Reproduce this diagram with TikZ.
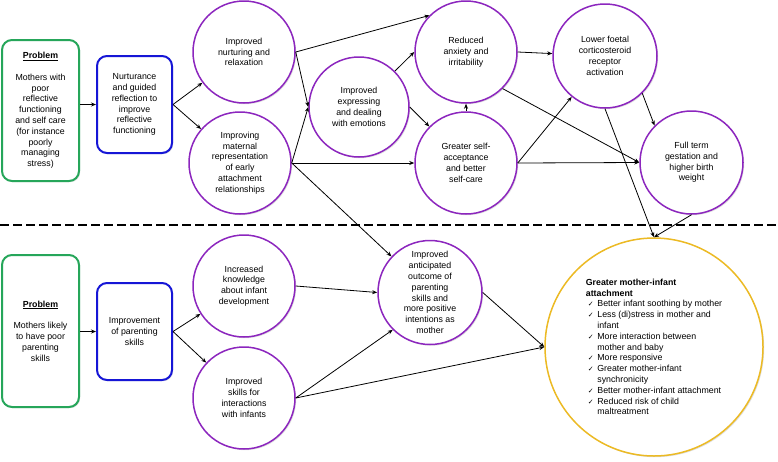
\documentclass[tikz,border=0pt]{standalone}
\usepackage{fontspec}
\setmainfont{Liberation Sans}
\newfontfamily\checkfont{DejaVu Sans}
\usetikzlibrary{shadows,arrows.meta}

\definecolor{probgreen}{RGB}{38,166,90}
\definecolor{stepblue}{RGB}{22,22,214}
\definecolor{effpurple}{RGB}{140,38,190}
\definecolor{goalyellow}{RGB}{236,186,36}

\newcommand{\chkline}[1]{\hspace*{2pt}\makebox[9.5pt][l]{\checkfont\fontsize{7}{8}\selectfont ✓}#1}
\newcommand{\contline}[1]{\hspace*{11.5pt}#1}

\begin{document}
\begin{tikzpicture}[x=1pt,y=-1pt,
  font=\fontsize{8.8}{10.8}\selectfont,
  softshadow/.style={drop shadow={shadow xshift=1.2pt,shadow yshift=-1.2pt,opacity=0.25}},
  problembox/.style={draw=probgreen,line width=2pt,rounded corners=10pt,fill=white,
    align=center,minimum width=77pt,inner sep=2pt,softshadow},
  stepbox/.style={draw=stepblue,line width=2pt,rounded corners=10pt,fill=white,
    align=center,minimum width=75pt,minimum height=97pt,inner sep=2pt,softshadow},
  effect/.style={circle,draw=effpurple,line width=1.5pt,fill=white,align=center,
    minimum size=102pt,inner sep=0pt,softshadow},
  goal/.style={circle,draw=goalyellow,line width=1.5pt,fill=white,align=left,
    minimum size=218pt,inner sep=0pt,softshadow},
  link/.style={-{Stealth[length=5pt,width=4pt]},line width=0.8pt}]

  \useasboundingbox (0,0) rectangle (778,461);

  % split between the two problems
  \draw[line width=1.6pt,dash pattern=on 9pt off 4pt] (0,225) -- (778,225);

  % upper part
  \node[problembox,minimum height=141pt] (prob1) at (40.5,110.5)
    {\underline{\textbf{Problem}}\\[10.8pt]Mothers with\\poor\\reflective\\functioning\\and self care\\(for instance\\poorly\\managing\\stress)};
  \node[stepbox] (reflect) at (134.5,104.5)
    {Nurturance\\and guided\\reflection to\\improve\\reflective\\functioning};
  \node[effect] (nurt) at (244,52) {Improved\\nurturing and\\relaxation};
  \node[effect] (mat) at (240,163) {Improving\\maternal\\representation\\of early\\attachment\\relationships};
  \node[effect,minimum size=100pt] (expr) at (359,107) {Improved\\expressing\\and dealing\\with emotions};
  \node[effect] (anx) at (466,52) {Reduced\\anxiety and\\irritability};
  \node[effect] (acc) at (466,163) {Greater self-\\acceptance\\and better\\self-care};
  \node[effect,minimum size=104pt] (foet) at (605,56) {Lower foetal\\corticosteroid\\receptor\\activation};
  \node[effect,minimum size=103pt] (full) at (691.5,162.5) {Full term\\gestation and\\higher birth\\weight};

  % lower part
  \node[problembox,minimum height=152pt] (prob2) at (40.5,331)
    {\underline{\textbf{Problem}}\\[10.8pt]Mothers likely\\to have poor\\parenting\\skills};
  \node[stepbox] (parent) at (134.5,331.5) {Improvement\\of parenting\\skills};
  \node[effect] (know) at (244,286) {Increased\\knowledge\\about infant\\development};
  \node[effect] (skill) at (244,398) {Improved\\skills for\\interactions\\with infants};
  \node[effect,minimum size=104pt] (antic) at (430,292.5)
    {Improved\\anticipated\\outcome of\\parenting\\skills and\\more positive\\intentions as\\mother};
  \node[goal] (attach) at (654,347)
    {\textbf{Greater mother-infant}\\\textbf{attachment}\\
     \chkline{Better infant soothing by mother}\\
     \chkline{Less (di)stress in mother and}\\\contline{infant}\\
     \chkline{More interaction between}\\\contline{mother and baby}\\
     \chkline{More responsive}\\
     \chkline{Greater mother-infant}\\\contline{synchronicity}\\
     \chkline{Better mother-infant attachment}\\
     \chkline{Reduced risk of child}\\\contline{maltreatment}};

  % connectors
  \draw[link] (reflect.west -| prob1.east) -- (reflect.west);
  \draw[link] (reflect.east) -- (nurt);
  \draw[link] (reflect.east) -- (mat);
  \draw[link] (nurt.east) -- (anx.135);
  \draw[link] (nurt.east) -- (expr.west);
  \draw[link] (mat.east) -- (expr.west);
  \draw[link] (mat.east) -- (acc.west);
  \draw[link] (mat.east) -- (antic);
  \draw[link] (expr.45) -- (anx.west);
  \draw[link] (expr.east) -- (acc);
  \draw[link] (acc.north) -- (anx.south);
  \draw[link] (anx.east) -- (foet);
  \draw[link] (anx.south east) -- (full.west);
  \draw[link] (acc.east) -- (foet);
  \draw[link] (acc.east) -- (full.west);
  \draw[link] (foet.south east) -- (full.north west);
  \draw[link] (foet.south) -- (attach.north);
  \draw[link] (full.south) -- (attach.north);

  \draw[link] (parent.west -| prob2.east) -- (parent.west);
  \draw[link] (parent.east) -- (know);
  \draw[link] (parent.east) -- (skill);
  \draw[link] (know.east) -- (antic.west);
  \draw[link] (skill.east) -- (antic.south west);
  \draw[link] (skill.east) -- (attach.west);
  \draw[link] (antic.east) -- (attach.west);
\end{tikzpicture}
\end{document}
